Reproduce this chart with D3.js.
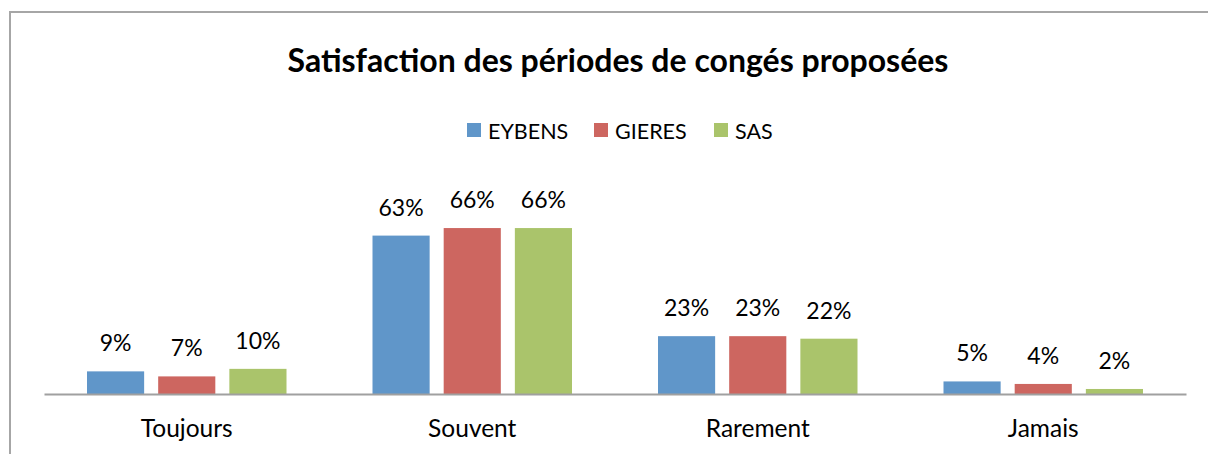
<!DOCTYPE html>
<html><head><meta charset="utf-8">
<script src="https://cdn.jsdelivr.net/npm/d3@7"></script>
<style>body{margin:0;background:#fff}svg{display:block}text{font-family:Lato,"Open Sans",sans-serif}</style>
</head><body>
<script>
const title = "Satisfaction des périodes de congés proposées";
const categories = ["Toujours", "Souvent", "Rarement", "Jamais"];
const seriesNames = ["EYBENS", "GIERES", "SAS"];
const eybens = [9, 63, 23, 5];
const gieres = [7, 66, 23, 4];
const sas = [10, 66, 22, 2];
const colors = ["#6096c9", "#cd6660", "#aac46b"];

const seriesValues = [eybens, gieres, sas];
const W = 1208, H = 454;
const svg = d3.select("body").append("svg").attr("width", W).attr("height", H);

// chart frame
svg.append("path").attr("d", `M10,${H} V12 H${W}`).attr("fill", "none").attr("stroke", "#a6a6a6").attr("stroke-width", 2);

svg.append("text").attr("x", 618).attr("y", 72).attr("text-anchor", "middle")
  .attr("font-size", 32).attr("font-weight", "bold").attr("fill", "#000").text(title);

// legend
const legendX = [467, 594, 714];
const lg = svg.append("g");
seriesNames.forEach((s, i) => {
  lg.append("rect").attr("x", legendX[i]).attr("y", 123).attr("width", 14).attr("height", 14).attr("fill", colors[i]);
  lg.append("text").attr("x", legendX[i] + 21).attr("y", 139).attr("font-size", 21.5).attr("fill", "#000").text(s);
});

const x0 = d3.scaleBand().domain(categories).range([44, 1186]).paddingInner(0).paddingOuter(0);
const x1 = d3.scaleBand().domain(seriesNames).range([43, x0.bandwidth() - 43]).paddingInner(14 / 71).paddingOuter(0);
const y = d3.scaleLinear().domain([0, 70]).range([394, 218]);

const data = [];
categories.forEach((c, ci) => seriesNames.forEach((s, si) => data.push({c, s, si, v: seriesValues[si][ci]})));

svg.append("g").selectAll("rect").data(data).join("rect")
  .attr("x", d => x0(d.c) + x1(d.s)).attr("width", x1.bandwidth())
  .attr("y", d => y(d.v)).attr("height", d => y(0) - y(d.v))
  .attr("fill", d => colors[d.si]);

svg.append("g").selectAll("text").data(data).join("text")
  .attr("x", d => x0(d.c) + x1(d.s) + x1.bandwidth() / 2)
  .attr("y", d => y(d.v) - 20).attr("text-anchor", "middle")
  .attr("font-size", 23).attr("fill", "#000").text(d => d.v + "%");

// baseline axis
const axis = d3.axisBottom(x0).tickSize(0).tickPadding(0);
const ag = svg.append("g").attr("transform", `translate(0,${y(0)})`).call(axis);
ag.select(".domain").attr("stroke", "#a0a0a0").attr("stroke-width", 2);
ag.selectAll(".tick text").attr("font-size", 24.5).attr("fill", "#000").attr("dy", null).attr("y", 43)
  .attr("font-family", "Lato");
</script>
</body></html>
